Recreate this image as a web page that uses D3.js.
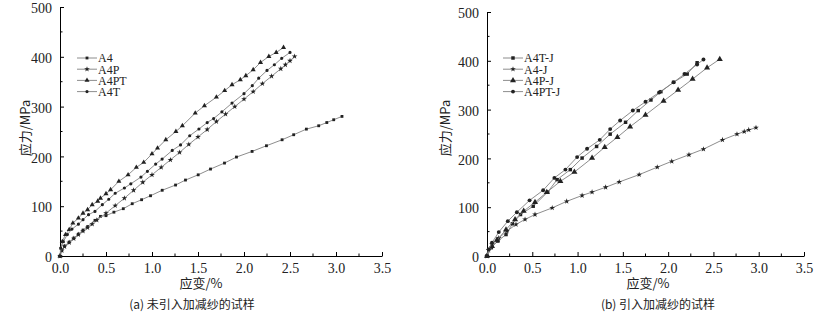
<!DOCTYPE html>
<html>
<head>
<meta charset="utf-8">
<script src="https://cdn.jsdelivr.net/npm/d3@7"></script>
<style>
  html, body { margin: 0; padding: 0; background: #fff; }
  svg { display: block; }
</style>
</head>
<body>
<svg id="chart" width="820" height="324"></svg>
<script>
// Tensile stress–strain curves (strain %, stress MPa)

const xTicks = [0, 0.5, 1.0, 1.5, 2.0, 2.5, 3.0, 3.5];
const yTicks = [0, 100, 200, 300, 400, 500];

// (a) specimens without added/reduced yarns
const a_A4 = [[0,0],[0.02,12],[0.05,20],[0.1,28],[0.15,36],[0.2,44],[0.25,52],[0.3,59],[0.38,71.6],[0.44,79.6],[0.5,81],
  [0.586,88],[0.688,95],[0.785,105],[0.887,113],[0.984,121],[1.111,132],[1.256,142.5],[1.364,152.5],[1.502,163],
  [1.636,174.6],[1.788,186.6],[1.918,198.7],[2.088,210],[2.244,221.4],[2.414,233.4],[2.54,243.5],[2.678,254.8],
  [2.812,261.5],[2.9,268],[2.975,273.6],[3.065,280.3]];
const a_A4P = [[0,0],[0.02,11],[0.05,19],[0.1,27],[0.15,35],[0.2,43],[0.25,50],[0.3,57],[0.35,64],[0.4,72],[0.5,86],
  [0.6,101],[0.7,116],[0.8,132],[0.9,148],[1.0,163],[1.1,178],[1.2,193],[1.3,208],[1.4,224],[1.5,239],[1.6,254],
  [1.7,270],[1.8,285],[1.9,300],[2.0,315],[2.1,330],[2.2,346],[2.3,361],[2.4,376],[2.45,384],[2.5,392],[2.55,400.7]];
const a_A4PT = [[0,0],[0.025,29],[0.06,43],[0.1,53],[0.14,66],[0.2,76],[0.25,86],[0.3,93],[0.35,103],[0.41,110],[0.44,116],
  [0.5,125],[0.55,133],[0.64,150],[0.74,163],[0.83,178],[0.91,188],[1.0,205],[1.06,216.7],[1.15,233.4],[1.26,250],
  [1.33,261.5],[1.47,287],[1.57,301.7],[1.7,319],[1.79,332],[1.87,344],[1.96,354],[2.02,362],[2.1,374],[2.18,388.6],
  [2.27,400.7],[2.35,408.7],[2.43,418.7]];
const a_A4T = [[0,0],[0.007,16],[0.036,29],[0.08,43],[0.13,54],[0.2,64],[0.25,73],[0.31,83],[0.38,89.6],[0.46,103],
  [0.53,114],[0.6,126],[0.7,136.5],[0.77,145],[0.88,158.5],[0.95,170],[1.04,184.6],[1.11,194.6],[1.22,212],[1.31,223],
  [1.41,241.5],[1.51,255],[1.6,268],[1.67,276],[1.76,289.6],[1.87,307],[2.0,326],[2.09,342],[2.16,357],[2.25,372.6],
  [2.33,384],[2.41,397],[2.5,408.7]];

// (b) specimens with added/reduced yarns
const b_A4TJ = [[0,0],[0.048,17],[0.12,30.6],[0.21,44],[0.28,66],[0.37,85],[0.51,102],[0.67,131],[0.774,156.5],[0.92,177],
  [1.05,200.7],[1.21,224.5],[1.36,249.7],[1.53,274],[1.67,298],[1.81,319.7],[1.92,336.7],[2.06,356],[2.21,372.8],[2.32,396]];
const b_A4J = [[0,0],[0.018,12],[0.055,24],[0.13,37],[0.22,51],[0.32,64.6],[0.42,75],[0.53,85],[0.72,98.6],[0.88,112],
  [1.05,124],[1.16,131],[1.31,140.8],[1.46,151.7],[1.68,166.7],[1.88,182],[2.04,194],[2.23,207.5],[2.39,219],[2.6,238],
  [2.76,249.7],[2.84,255],[2.89,258.5],[2.97,263]];
const b_A4PJ = [[0,0],[0.055,20],[0.11,32.6],[0.21,54],[0.31,75],[0.405,92],[0.53,110],[0.66,130.6],[0.81,153],[0.965,172],
  [1.16,200.7],[1.3,223],[1.44,243.5],[1.58,265],[1.75,289],[1.95,317.7],[2.11,340],[2.27,362.6],[2.43,385.7],[2.57,403.4]];
const b_A4PTJ = [[0,0],[0.018,13.6],[0.055,27],[0.13,49],[0.23,71.4],[0.33,89.8],[0.47,114],[0.62,134.7],[0.744,160],
  [0.866,177],[0.995,202.7],[1.105,219.7],[1.245,238],[1.36,260],[1.47,277.6],[1.61,298],[1.75,316],[1.9,335],
  [2.06,355.8],[2.18,372.8],[2.32,392.5],[2.39,402.7]];

const panels = [
  { x0: 60, x1: 382, y0: 256, y1: 7, caption: "(a) 未引入加减纱的试样", capX: 192, xTitleX: 201, yTitleX: 25,
    legX: 77, series: [
      { name: "A4", data: a_A4, sym: d3.symbolSquare, size: 8 },
      { name: "A4P", data: a_A4P, sym: d3.symbolStar, size: 10 },
      { name: "A4PT", data: a_A4PT, sym: d3.symbolTriangle, size: 11 },
      { name: "A4T", data: a_A4T, sym: d3.symbolCircle, size: 8 } ] },
  { x0: 487, x1: 804, y0: 256, y1: 12, caption: "(b) 引入加减纱的试样", capX: 658, xTitleX: 648, yTitleX: 445,
    legX: 503, series: [
      { name: "A4T-J", data: b_A4TJ, sym: d3.symbolSquare, size: 12 },
      { name: "A4-J", data: b_A4J, sym: d3.symbolStar, size: 10 },
      { name: "A4P-J", data: b_A4PJ, sym: d3.symbolTriangle, size: 16 },
      { name: "A4PT-J", data: b_A4PTJ, sym: d3.symbolCircle, size: 12 } ] }
];

const serif = '"Liberation Serif", "Times New Roman", "DejaVu Serif", serif';
const cjk = '"Noto Sans CJK SC", sans-serif';
const svg = d3.select("#chart");
const lineColor = "#808080";
const markColor = "#222";

panels.forEach(p => {
  const x = d3.scaleLinear().domain([0, 3.5]).range([p.x0, p.x1]);
  const y = d3.scaleLinear().domain([0, 500]).range([p.y0, p.y1]);
  const g = svg.append("g");

  // minor ticks
  const xMinor = d3.range(0.25, 3.5, 0.5);
  const yMinor = d3.range(50, 500, 100);
  g.selectAll(null).data(xMinor).join("line")
    .attr("x1", d => x(d)).attr("x2", d => x(d)).attr("y1", p.y0).attr("y2", p.y0 - 2.5)
    .attr("stroke", "#000").attr("stroke-width", 1);
  g.selectAll(null).data(yMinor).join("line")
    .attr("y1", d => y(d)).attr("y2", d => y(d)).attr("x1", p.x0).attr("x2", p.x0 + 2.5)
    .attr("stroke", "#000").attr("stroke-width", 1);

  // axes with inward ticks
  const xAxis = d3.axisBottom(x).tickValues(xTicks).tickFormat(d3.format(".1f")).tickSizeInner(-4).tickSizeOuter(0).tickPadding(7);
  const yAxis = d3.axisLeft(y).tickValues(yTicks).tickFormat(d3.format("d")).tickSizeInner(-4).tickSizeOuter(0).tickPadding(8);
  const styleAxis = s => {
    s.attr("font-family", null).attr("font-size", null);
    s.select(".domain").attr("stroke", "#000");
    s.selectAll(".tick line").attr("stroke", "#000");
    s.selectAll(".tick text").style("font-family", serif).style("font-size", "14px").attr("fill", "#222");
  };
  g.append("g").attr("transform", `translate(0,${p.y0})`).call(xAxis).call(styleAxis);
  g.append("g").attr("transform", `translate(${p.x0},0)`).call(yAxis).call(styleAxis)
    .call(s => s.selectAll(".tick text").attr("dy", "0.4em"));

  // curves
  const line = d3.line().x(d => x(d[0])).y(d => y(d[1]));
  p.series.forEach(s => {
    g.append("path").datum(s.data).attr("d", line)
      .attr("fill", "none").attr("stroke", lineColor).attr("stroke-width", 0.9);
    const sym = d3.symbol().type(s.sym).size(s.size);
    g.selectAll(null).data(s.data).join("path")
      .attr("d", sym)
      .attr("transform", d => `translate(${x(d[0])},${y(d[1])})`)
      .attr("fill", markColor);
  });

  // legend
  p.series.forEach((s, i) => {
    const ly = 58 + i * 11.2;
    g.append("line").attr("x1", p.legX).attr("x2", p.legX + 20).attr("y1", ly).attr("y2", ly)
      .attr("stroke", lineColor).attr("stroke-width", 0.9);
    g.append("path").attr("d", d3.symbol().type(s.sym).size(s.size)())
      .attr("transform", `translate(${p.legX + 10},${ly})`).attr("fill", markColor);
    g.append("text").attr("x", p.legX + 21).attr("y", ly).attr("dy", "0.36em")
      .style("font-family", serif).style("font-size", "12px").attr("fill", "#222").text(s.name);
  });

  // titles
  g.append("text").style("font-family", cjk).style("font-size", "13px").attr("fill", "#222")
    .attr("x", p.xTitleX).attr("y", 288).attr("text-anchor", "middle").text("应变/%");
  g.append("text").style("font-family", cjk).style("font-size", "13px").attr("fill", "#222")
    .attr("transform", `translate(${p.yTitleX + 5},128) rotate(-90)`)
    .attr("text-anchor", "middle").text("应力/MPa");
  g.append("text").style("font-family", cjk).style("font-size", "12px").attr("fill", "#222")
    .attr("x", p.capX).attr("y", 309).attr("text-anchor", "middle").text(p.caption);
});
</script>
</body>
</html>
